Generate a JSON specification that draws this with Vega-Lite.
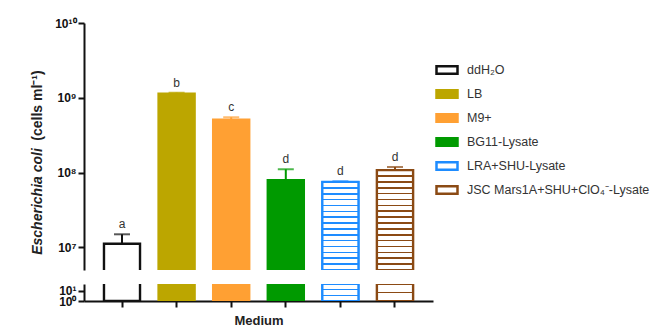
{
  "$schema": "https://vega.github.io/schema/vega-lite/v6.json",
  "padding": {"left": 29, "top": 17, "right": 0, "bottom": 0},
  "background": "white",
  "bounds": "flush",
  "config": {
    "view": {"stroke": null},
    "font": "Liberation Sans",
    "axis": {"grid": false, "domainColor": "#111", "domainWidth": 2, "tickColor": "#111", "tickWidth": 2, "tickSize": 6, "labelFont": "Liberation Sans", "labelFontWeight": "bold", "labelFontSize": 12, "labelColor": "#111", "titleFont": "Liberation Sans", "titleFontWeight": "bold", "titleFontSize": 14, "titleColor": "#222"}
  },
  "data": {"values": [
    {"medium": "ddH₂O", "value": 1.12e7, "upper": 1.5e7, "label": "a"},
    {"medium": "LB", "value": 1.135e9, "upper": 1.17e9, "label": "b"},
    {"medium": "M9+", "value": 5.1e8, "upper": 5.5e8, "label": "c"},
    {"medium": "BG11-Lysate", "value": 7.9e7, "upper": 1.11e8, "label": "d"},
    {"medium": "LRA+SHU-Lysate", "value": 7.5e7, "upper": 7.7e7, "label": "d"},
    {"medium": "JSC Mars1A+SHU+ClO₄⁻-Lysate", "value": 1.08e8, "upper": 1.19e8, "label": "d"}
  ]},
  "resolve": {"scale": {"y": "independent", "fill": "shared", "stroke": "shared", "color": "shared", "x": "shared"}},
  "spacing": 14,
  "vconcat": [
    {
      "width": 349,
      "height": 247,
      "encoding": {
        "x": {"field": "medium", "type": "nominal", "sort": null, "axis": null,
              "scale": {"domain": ["ddH₂O", "LB", "M9+", "BG11-Lysate", "LRA+SHU-Lysate", "JSC Mars1A+SHU+ClO₄⁻-Lysate"], "paddingInner": 0.34, "paddingOuter": 0.366}}
      },
      "layer": [
        {
          "mark": {"type": "bar", "clip": true, "strokeWidth": 2.4},
          "encoding": {
            "y": {"field": "value", "type": "quantitative",
                  "scale": {"type": "log", "domain": [5e6, 1e10], "nice": false},
                  "axis": {"values": [1e7, 1e8, 1e9, 1e10], "labelExpr": "datum.value > 9e9 ? '10¹⁰' : datum.value > 9e8 ? '10⁹' : datum.value > 9e7 ? '10⁸' : '10⁷'", "title": "(cells ml⁻¹)", "titleX": -43, "titleY": 82, "titleAngle": 270, "titleAlign": "center", "titleBaseline": "alphabetic"}},
            "y2": {"datum": 4e6},
            "fill": {"field": "medium", "type": "nominal",
                     "scale": {"domain": ["ddH₂O", "LB", "M9+", "BG11-Lysate", "LRA+SHU-Lysate", "JSC Mars1A+SHU+ClO₄⁻-Lysate"], "range": ["#ffffff", "#BCA600", "#FFA033", "#009A00", "#ffffff", "#ffffff"]},
                     "legend": {"orient": "none", "legendX": 351, "legendY": 35, "title": null, "symbolType": "M-1,-0.35H1V0.35H-1Z", "symbolSize": 441, "symbolStrokeWidth": 2.5, "labelFontSize": 12.5, "labelFont": "Liberation Sans", "labelColor": "#333", "labelLimit": 400, "rowPadding": 3, "labelOffset": 8, "padding": 0}},
            "stroke": {"field": "medium", "type": "nominal",
                       "scale": {"domain": ["ddH₂O", "LB", "M9+", "BG11-Lysate", "LRA+SHU-Lysate", "JSC Mars1A+SHU+ClO₄⁻-Lysate"], "range": ["#111111", "#BCA600", "#FFA033", "#009A00", "#1E8CFF", "#8B4A14"]},
                       "legend": {"orient": "none", "legendX": 351, "legendY": 35, "title": null, "symbolType": "M-1,-0.35H1V0.35H-1Z", "symbolSize": 441, "symbolStrokeWidth": 2.5, "labelFontSize": 12.5, "labelFont": "Liberation Sans", "labelColor": "#333", "labelLimit": 400, "rowPadding": 3, "labelOffset": 8, "padding": 0}}
          }
        },
        {
          "transform": [{"filter": "datum.medium === 'LRA+SHU-Lysate'"}],
          "mark": {"type": "bar", "clip": true, "stroke": "#1E8CFF", "strokeWidth": 2.2,
                   "fill": {"gradient": "linear", "x1": 0, "y1": 0, "x2": 0, "y2": 1, "stops": [
                     {"offset": 0, "color": "#1E8CFF"}, {"offset": 0.009, "color": "#1E8CFF"}, {"offset": 0.009, "color": "#ffffff"},
                     {"offset": 0.0577, "color": "#ffffff"}, {"offset": 0.0577, "color": "#1E8CFF"}, {"offset": 0.0757, "color": "#1E8CFF"}, {"offset": 0.0757, "color": "#ffffff"},
                     {"offset": 0.1243, "color": "#ffffff"}, {"offset": 0.1243, "color": "#1E8CFF"}, {"offset": 0.1423, "color": "#1E8CFF"}, {"offset": 0.1423, "color": "#ffffff"},
                     {"offset": 0.191, "color": "#ffffff"}, {"offset": 0.191, "color": "#1E8CFF"}, {"offset": 0.209, "color": "#1E8CFF"}, {"offset": 0.209, "color": "#ffffff"},
                     {"offset": 0.2577, "color": "#ffffff"}, {"offset": 0.2577, "color": "#1E8CFF"}, {"offset": 0.2757, "color": "#1E8CFF"}, {"offset": 0.2757, "color": "#ffffff"},
                     {"offset": 0.3243, "color": "#ffffff"}, {"offset": 0.3243, "color": "#1E8CFF"}, {"offset": 0.3423, "color": "#1E8CFF"}, {"offset": 0.3423, "color": "#ffffff"},
                     {"offset": 0.391, "color": "#ffffff"}, {"offset": 0.391, "color": "#1E8CFF"}, {"offset": 0.409, "color": "#1E8CFF"}, {"offset": 0.409, "color": "#ffffff"},
                     {"offset": 0.4577, "color": "#ffffff"}, {"offset": 0.4577, "color": "#1E8CFF"}, {"offset": 0.4757, "color": "#1E8CFF"}, {"offset": 0.4757, "color": "#ffffff"},
                     {"offset": 0.5243, "color": "#ffffff"}, {"offset": 0.5243, "color": "#1E8CFF"}, {"offset": 0.5423, "color": "#1E8CFF"}, {"offset": 0.5423, "color": "#ffffff"},
                     {"offset": 0.591, "color": "#ffffff"}, {"offset": 0.591, "color": "#1E8CFF"}, {"offset": 0.609, "color": "#1E8CFF"}, {"offset": 0.609, "color": "#ffffff"},
                     {"offset": 0.6577, "color": "#ffffff"}, {"offset": 0.6577, "color": "#1E8CFF"}, {"offset": 0.6757, "color": "#1E8CFF"}, {"offset": 0.6757, "color": "#ffffff"},
                     {"offset": 0.7243, "color": "#ffffff"}, {"offset": 0.7243, "color": "#1E8CFF"}, {"offset": 0.7423, "color": "#1E8CFF"}, {"offset": 0.7423, "color": "#ffffff"},
                     {"offset": 0.791, "color": "#ffffff"}, {"offset": 0.791, "color": "#1E8CFF"}, {"offset": 0.809, "color": "#1E8CFF"}, {"offset": 0.809, "color": "#ffffff"},
                     {"offset": 0.8577, "color": "#ffffff"}, {"offset": 0.8577, "color": "#1E8CFF"}, {"offset": 0.8757, "color": "#1E8CFF"}, {"offset": 0.8757, "color": "#ffffff"},
                     {"offset": 0.9243, "color": "#ffffff"}, {"offset": 0.9243, "color": "#1E8CFF"}, {"offset": 0.9423, "color": "#1E8CFF"}, {"offset": 0.9423, "color": "#ffffff"},
                     {"offset": 0.991, "color": "#ffffff"}, {"offset": 0.991, "color": "#1E8CFF"}, {"offset": 1, "color": "#1E8CFF"}
                   ]}},
          "encoding": {
            "y": {"field": "value", "type": "quantitative"},
            "y2": {"datum": 5e6}
          }
        },
        {
          "transform": [{"filter": "datum.medium === 'JSC Mars1A+SHU+ClO₄⁻-Lysate'"}],
          "mark": {"type": "bar", "clip": true, "stroke": "#8B4A14", "strokeWidth": 2.2,
                   "fill": {"gradient": "linear", "x1": 0, "y1": 0, "x2": 0, "y2": 1, "stops": [
                     {"offset": 0, "color": "#8B4A14"}, {"offset": 0.0085, "color": "#8B4A14"}, {"offset": 0.0085, "color": "#ffffff"},
                     {"offset": 0.0503, "color": "#ffffff"}, {"offset": 0.0503, "color": "#8B4A14"}, {"offset": 0.0673, "color": "#8B4A14"}, {"offset": 0.0673, "color": "#ffffff"},
                     {"offset": 0.1091, "color": "#ffffff"}, {"offset": 0.1091, "color": "#8B4A14"}, {"offset": 0.1261, "color": "#8B4A14"}, {"offset": 0.1261, "color": "#ffffff"},
                     {"offset": 0.168, "color": "#ffffff"}, {"offset": 0.168, "color": "#8B4A14"}, {"offset": 0.185, "color": "#8B4A14"}, {"offset": 0.185, "color": "#ffffff"},
                     {"offset": 0.2268, "color": "#ffffff"}, {"offset": 0.2268, "color": "#8B4A14"}, {"offset": 0.2438, "color": "#8B4A14"}, {"offset": 0.2438, "color": "#ffffff"},
                     {"offset": 0.2856, "color": "#ffffff"}, {"offset": 0.2856, "color": "#8B4A14"}, {"offset": 0.3026, "color": "#8B4A14"}, {"offset": 0.3026, "color": "#ffffff"},
                     {"offset": 0.3444, "color": "#ffffff"}, {"offset": 0.3444, "color": "#8B4A14"}, {"offset": 0.3614, "color": "#8B4A14"}, {"offset": 0.3614, "color": "#ffffff"},
                     {"offset": 0.4033, "color": "#ffffff"}, {"offset": 0.4033, "color": "#8B4A14"}, {"offset": 0.4203, "color": "#8B4A14"}, {"offset": 0.4203, "color": "#ffffff"},
                     {"offset": 0.4621, "color": "#ffffff"}, {"offset": 0.4621, "color": "#8B4A14"}, {"offset": 0.4791, "color": "#8B4A14"}, {"offset": 0.4791, "color": "#ffffff"},
                     {"offset": 0.5209, "color": "#ffffff"}, {"offset": 0.5209, "color": "#8B4A14"}, {"offset": 0.5379, "color": "#8B4A14"}, {"offset": 0.5379, "color": "#ffffff"},
                     {"offset": 0.5797, "color": "#ffffff"}, {"offset": 0.5797, "color": "#8B4A14"}, {"offset": 0.5967, "color": "#8B4A14"}, {"offset": 0.5967, "color": "#ffffff"},
                     {"offset": 0.6386, "color": "#ffffff"}, {"offset": 0.6386, "color": "#8B4A14"}, {"offset": 0.6556, "color": "#8B4A14"}, {"offset": 0.6556, "color": "#ffffff"},
                     {"offset": 0.6974, "color": "#ffffff"}, {"offset": 0.6974, "color": "#8B4A14"}, {"offset": 0.7144, "color": "#8B4A14"}, {"offset": 0.7144, "color": "#ffffff"},
                     {"offset": 0.7562, "color": "#ffffff"}, {"offset": 0.7562, "color": "#8B4A14"}, {"offset": 0.7732, "color": "#8B4A14"}, {"offset": 0.7732, "color": "#ffffff"},
                     {"offset": 0.815, "color": "#ffffff"}, {"offset": 0.815, "color": "#8B4A14"}, {"offset": 0.832, "color": "#8B4A14"}, {"offset": 0.832, "color": "#ffffff"},
                     {"offset": 0.8739, "color": "#ffffff"}, {"offset": 0.8739, "color": "#8B4A14"}, {"offset": 0.8909, "color": "#8B4A14"}, {"offset": 0.8909, "color": "#ffffff"},
                     {"offset": 0.9327, "color": "#ffffff"}, {"offset": 0.9327, "color": "#8B4A14"}, {"offset": 0.9497, "color": "#8B4A14"}, {"offset": 0.9497, "color": "#ffffff"},
                     {"offset": 0.9915, "color": "#ffffff"}, {"offset": 0.9915, "color": "#8B4A14"}, {"offset": 1, "color": "#8B4A14"}
                   ]}},
          "encoding": {
            "y": {"field": "value", "type": "quantitative"},
            "y2": {"datum": 5e6}
          }
        },
        {
          "mark": {"type": "rule", "strokeWidth": 2},
          "encoding": {
            "y": {"field": "value", "type": "quantitative"},
            "y2": {"field": "upper"},
            "color": {"field": "medium", "type": "nominal", "legend": null,
                      "scale": {"domain": ["ddH₂O", "LB", "M9+", "BG11-Lysate", "LRA+SHU-Lysate", "JSC Mars1A+SHU+ClO₄⁻-Lysate"], "range": ["#111111", "#BCA600", "#FFA033", "#009A00", "#1E8CFF", "#8B4A14"]}}
          }
        },
        {
          "mark": {"type": "tick", "thickness": 2, "size": 16},
          "encoding": {
            "y": {"field": "upper", "type": "quantitative"},
            "color": {"field": "medium", "type": "nominal", "legend": null}
          }
        },
        {
          "mark": {"type": "text", "baseline": "bottom", "dy": -3, "fontSize": 12, "color": "#333", "font": "Liberation Sans"},
          "encoding": {
            "y": {"field": "upper", "type": "quantitative"},
            "text": {"field": "label"}
          }
        }
      ]
    },
    {
      "width": 349,
      "height": 17,
      "encoding": {
        "x": {"field": "medium", "type": "nominal", "sort": null,
              "scale": {"domain": ["ddH₂O", "LB", "M9+", "BG11-Lysate", "LRA+SHU-Lysate", "JSC Mars1A+SHU+ClO₄⁻-Lysate"], "paddingInner": 0.34, "paddingOuter": 0.366},
              "axis": {"labels": false, "title": "Medium", "titlePadding": 6, "tickSize": 6, "titleFontSize": 13}}
      },
      "layer": [
        {
          "mark": {"type": "bar", "clip": true, "strokeWidth": 2.4},
          "encoding": {
            "y": {"datum": 1000, "type": "quantitative",
                  "scale": {"type": "log", "domain": [1, 50], "nice": false},
                  "axis": {"values": [1, 10], "labelExpr": "datum.value > 5 ? '10¹' : '10⁰'", "title": "Escherichia coli", "titleFontStyle": "italic", "titleX": -43, "titleY": -83, "titleAngle": 270, "titleAlign": "center", "titleBaseline": "alphabetic"}},
            "y2": {"datum": 1},
            "fill": {"field": "medium", "type": "nominal"},
            "stroke": {"field": "medium", "type": "nominal"}
          }
        },
        {
          "transform": [{"filter": "datum.medium === 'LRA+SHU-Lysate'"}],
          "mark": {"type": "bar", "clip": true, "stroke": "#1E8CFF", "strokeWidth": 2.2,
                   "fill": {"gradient": "linear", "x1": 0, "y1": 0, "x2": 0, "y2": 1, "stops": [
                     {"offset": 0, "color": "#1E8CFF"}, {"offset": 0.047, "color": "#1E8CFF"}, {"offset": 0.047, "color": "#ffffff"},
                     {"offset": 0.286, "color": "#ffffff"}, {"offset": 0.286, "color": "#1E8CFF"}, {"offset": 0.38, "color": "#1E8CFF"}, {"offset": 0.38, "color": "#ffffff"},
                     {"offset": 0.62, "color": "#ffffff"}, {"offset": 0.62, "color": "#1E8CFF"}, {"offset": 0.714, "color": "#1E8CFF"}, {"offset": 0.714, "color": "#ffffff"},
                     {"offset": 0.953, "color": "#ffffff"}, {"offset": 0.953, "color": "#1E8CFF"}, {"offset": 1, "color": "#1E8CFF"}
                   ]}},
          "encoding": {
            "y": {"datum": 50, "type": "quantitative"},
            "y2": {"datum": 1}
          }
        },
        {
          "transform": [{"filter": "datum.medium === 'JSC Mars1A+SHU+ClO₄⁻-Lysate'"}],
          "mark": {"type": "bar", "clip": true, "stroke": "#8B4A14", "strokeWidth": 2.2,
                   "fill": {"gradient": "linear", "x1": 0, "y1": 0, "x2": 0, "y2": 1, "stops": [
                     {"offset": 0, "color": "#8B4A14"}, {"offset": 0.047, "color": "#8B4A14"}, {"offset": 0.047, "color": "#ffffff"},
                     {"offset": 0.453, "color": "#ffffff"}, {"offset": 0.453, "color": "#8B4A14"}, {"offset": 0.547, "color": "#8B4A14"}, {"offset": 0.547, "color": "#ffffff"},
                     {"offset": 0.953, "color": "#ffffff"}, {"offset": 0.953, "color": "#8B4A14"}, {"offset": 1, "color": "#8B4A14"}
                   ]}},
          "encoding": {
            "y": {"datum": 50, "type": "quantitative"},
            "y2": {"datum": 1}
          }
        }
      ]
    }
  ]
}
